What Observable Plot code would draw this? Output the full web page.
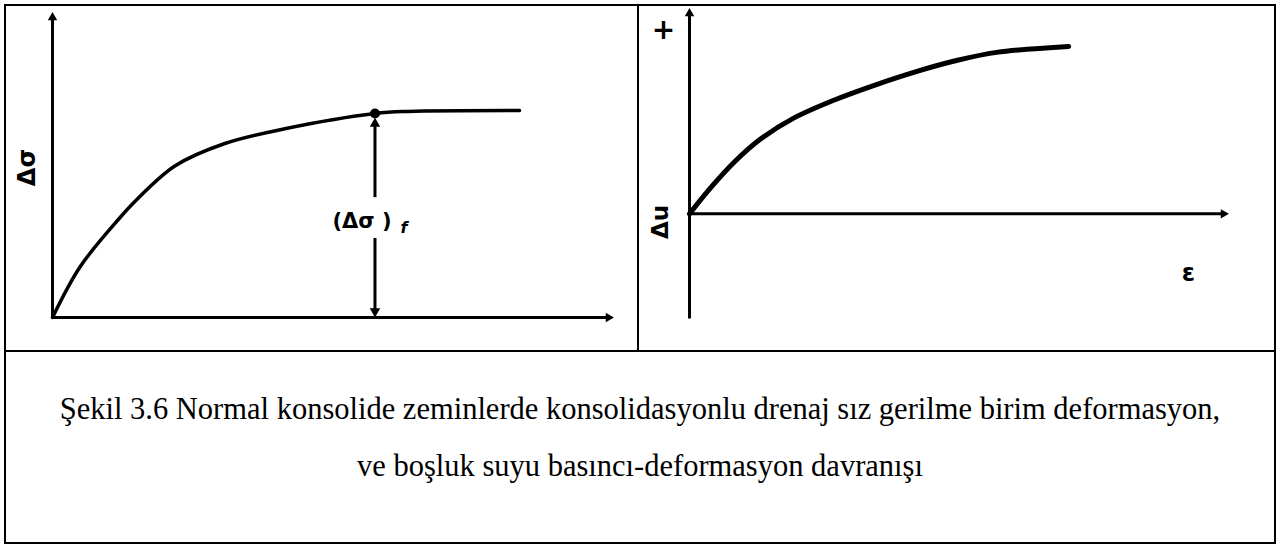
<!DOCTYPE html>
<html>
<head>
<meta charset="utf-8">
<script src="https://cdn.jsdelivr.net/npm/d3@7"></script>
<script src="https://cdn.jsdelivr.net/npm/@observablehq/plot@0.6"></script>
<style>
  html, body { margin: 0; padding: 0; background: #fff; }
  body { position: relative; width: 1281px; height: 547px; overflow: hidden; }
  .rule { position: absolute; background: #000; z-index: 2; }
  #box { position: absolute; left: 4px; top: 4px; width: 1272px; height: 540px;
         box-sizing: border-box; border: 2px solid #000; z-index: 2; }
  .panel { position: absolute; top: 0; z-index: 1; }
  #caption { position: absolute; left: 4px; width: 1272px; top: 381px; text-align: center;
             font-family: "Liberation Serif", "Times New Roman", serif; font-size: 30.5px;
             line-height: 57px; color: #000; z-index: 2; white-space: nowrap; }
</style>
</head>
<body>
<div id="box"></div>
<div class="rule" style="left:637px; top:5px; width:2px; height:347px;"></div>
<div class="rule" style="left:5px; top:350px; width:1270px; height:2px;"></div>
<div id="left" class="panel" style="left:0px;"></div>
<div id="right" class="panel" style="left:637px;"></div>
<div id="caption">Şekil 3.6 Normal konsolide zeminlerde konsolidasyonlu drenaj sız gerilme birim deformasyon,<br>ve boşluk suyu basıncı-deformasyon davranışı</div>
<script>
// Deviator stress vs. axial strain (arbitrary units)
const strainStress = [0, 0.5, 1.2, 1.5, 2.2, 3.1, 4.2, 5.8, 6.4, 8.4];
const deviatorStress = [0, 1.7, 3.3, 3.9, 5.05, 5.8, 6.3, 6.8, 6.87, 6.9];
const failureIndex = 7;

// Excess pore pressure vs. axial strain (arbitrary units)
const strainPore = [0, 0.41, 0.85, 1.33, 1.95, 2.7, 3.46, 4.23, 4.98, 5.75, 7.1];
const porePressure = [0, 0.9, 1.75, 2.5, 3.2, 3.8, 4.3, 4.75, 5.12, 5.4, 5.6];

// Axis extents for each panel
const stressAxisX = [0, 10];
const stressAxisY = [0, 10];
const poreAxisX = [0, 10];
const poreAxisY = [-3.5, 6.7];

const labelFont = "DejaVu Sans, Verdana, sans-serif";

const stressRows = strainStress.map((e, i) => ({e, s: deviatorStress[i]}));
const poreRows = strainPore.map((e, i) => ({e, u: porePressure[i]}));
const failure = stressRows[failureIndex];

// an axis drawn as a line with a solid triangular head at its far end
function axisMarks(xAxis, yAxis, yStart) {
  const lines = [
    {x1: xAxis[0], y1: 0, x2: xAxis[1], y2: 0, angle: 90},
    {x1: 0, y1: yStart, x2: 0, y2: yAxis[1], angle: 0}
  ];
  return [
    Plot.link(lines, {x1: "x1", y1: "y1", x2: "x2", y2: "y2", stroke: "#000", strokeWidth: 3}),
    Plot.dot(lines, {x: "x2", y: "y2", symbol: "triangle2", r: 4.5, fill: "#000", rotate: "angle"})
  ];
}

const leftChart = Plot.plot({
  width: 637, height: 350,
  marginLeft: 52, marginRight: 29, marginTop: 17, marginBottom: 33,
  style: {background: "none", overflow: "visible"},
  x: {domain: stressAxisX, axis: null},
  y: {domain: stressAxisY, axis: null},
  marks: [
    ...axisMarks(stressAxisX, stressAxisY, 0),
    // stress–strain curve
    Plot.line(stressRows, {x: "e", y: "s", curve: "catmull-rom", stroke: "#000", strokeWidth: 3.5}),
    // failure point
    Plot.dot([failure], {x: "e", y: "s", r: 5, fill: "#000"}),
    // double arrow marking (Δσ)f, split around its label
    Plot.link([failure], {x1: "e", x2: "e", y1: d => d.s * 0.59, y2: d => d.s * 0.95,
      stroke: "#000", strokeWidth: 3}),
    Plot.link([failure], {x1: "e", x2: "e", y1: d => d.s * 0.39, y2: d => d.s * 0.03,
      stroke: "#000", strokeWidth: 3}),
    Plot.dot([failure], {x: "e", y: d => d.s * 0.95, symbol: "triangle2", r: 5, fill: "#000"}),
    Plot.dot([failure], {x: "e", y: d => d.s * 0.03, symbol: "triangle2", r: 5, fill: "#000", rotate: 180}),
    Plot.text([failure], {x: "e", y: d => d.s * 0.47, text: () => "(Δσ )", dx: -13,
      fontFamily: labelFont, fontWeight: "bold", fontSize: 21, fill: "#000"}),
    Plot.text([failure], {x: "e", y: d => d.s * 0.47, text: () => "f", dx: 29, dy: 6,
      fontFamily: labelFont, fontWeight: "bold", fontStyle: "italic", fontSize: 16, fill: "#000"}),
    // axis label
    Plot.text(["Δσ"], {frameAnchor: "left", dx: -25, rotate: -90, textAnchor: "middle",
      fontFamily: labelFont, fontWeight: "bold", fontSize: 24, fill: "#000"})
  ]
});
document.getElementById("left").append(leftChart);

const rightChart = Plot.plot({
  width: 639, height: 350,
  marginLeft: 52, marginRight: 53, marginTop: 13, marginBottom: 32,
  style: {background: "none", overflow: "visible"},
  x: {domain: poreAxisX, axis: null},
  y: {domain: poreAxisY, axis: null},
  marks: [
    ...axisMarks(poreAxisX, poreAxisY, poreAxisY[0]),
    Plot.line(poreRows, {x: "e", y: "u", curve: "catmull-rom", stroke: "#000", strokeWidth: 5}),
    Plot.text(["+"], {frameAnchor: "top-left", dx: -26, dy: 17, textAnchor: "middle", lineAnchor: "middle",
      fontFamily: labelFont, fontWeight: "bold", fontSize: 28, fill: "#000"}),
    Plot.text(["Δu"], {x: 0, y: 0, dx: -29, dy: 8, rotate: -90,
      fontFamily: labelFont, fontWeight: "bold", fontSize: 23, fill: "#000"}),
    Plot.text(["ε"], {x: poreAxisX[1], y: 0, dx: -35, dy: 59,
      fontFamily: labelFont, fontWeight: "bold", fontSize: 24, fill: "#000"})
  ]
});
document.getElementById("right").append(rightChart);
</script>
</body>
</html>
